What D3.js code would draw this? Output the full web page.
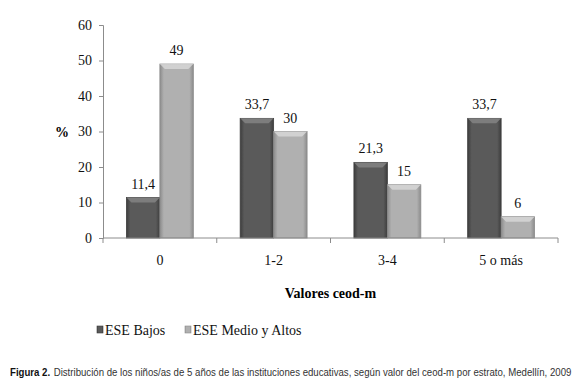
<!DOCTYPE html>
<html>
<head>
<meta charset="utf-8">
<script src="https://cdn.jsdelivr.net/npm/d3@7"></script>
<style>
  body { margin: 0; background: #fff; }
  svg { display: block; }
</style>
</head>
<body>
<svg id="chart" width="580" height="384"></svg>
<script>
// data
const categories = ["0", "1-2", "3-4", "5 o más"];
const seriesNames = ["ESE Bajos", "ESE Medio y Altos"];
const bajos = [11.4, 33.7, 21.3, 33.7];
const medioAltos = [49, 30, 15, 6];
const yTicks = [0, 10, 20, 30, 40, 50, 60];

const SERIF = '"Liberation Serif"';
const SANS = '"Liberation Sans"';
const fmt = v => String(v).replace(".", ",");

let svg = d3.select("#chart");
let margin = {top: 25, left: 103, right: 22, bottom: 146};
let width = 580 - margin.left - margin.right,
    height = 384 - margin.top - margin.bottom;

let rows = categories.map((c, i) => ({cat: c, values: [bajos[i], medioAltos[i]]}));

let x0 = d3.scaleBand().domain(categories).range([0, width]).padding(0);
let x1 = d3.scaleBand().domain([0, 1]).range([0, x0.bandwidth()]).paddingInner(0).paddingOuter(0.7);
let y = d3.scaleLinear().domain([0, 60]).range([height, 0]);

// gradients for the bevelled bars
let defs = svg.append("defs");
let shades = [
  {id: "g0", edge: "#3d3d3d", mid: "#5a5a5a", top: "#8a8a8a"},
  {id: "g1", edge: "#8c8c8c", mid: "#b0b0b0", top: "#dcdcdc"}
];
shades.forEach(s => {
  let gr = defs.append("linearGradient").attr("id", s.id).attr("x1", 0).attr("x2", 1).attr("y1", 0).attr("y2", 0);
  gr.append("stop").attr("offset", "0%").attr("stop-color", s.edge);
  gr.append("stop").attr("offset", "12%").attr("stop-color", s.mid);
  gr.append("stop").attr("offset", "88%").attr("stop-color", s.mid);
  gr.append("stop").attr("offset", "100%").attr("stop-color", s.edge);
});

let g = svg.append("g").attr("transform", `translate(${margin.left},${margin.top})`);

// y axis
let yAxis = g.append("g")
  .call(d3.axisLeft(y).tickValues(yTicks).tickSize(4).tickPadding(7));
yAxis.attr("font-family", null).attr("font-size", null);
yAxis.selectAll("path, line").attr("stroke", "#8c8c8c");
yAxis.selectAll("text")
  .style("font-family", SERIF).style("font-size", "14px").attr("fill", "#111");

// bars
let group = g.selectAll(".grp").data(rows).join("g")
  .attr("class", "grp")
  .attr("transform", d => `translate(${x0(d.cat)},0)`);

let bars = group.selectAll(".bar").data(d => d.values.map((v, k) => ({k, v}))).join("g").attr("class", "bar");

bars.append("rect")
  .attr("x", d => x1(d.k))
  .attr("y", d => y(d.v))
  .attr("width", x1.bandwidth())
  .attr("height", d => y(0) - y(d.v))
  .attr("fill", d => `url(#${shades[d.k].id})`)
  .attr("stroke", d => shades[d.k].edge)
  .attr("stroke-width", 0.8);

// top bevel
bars.append("path")
  .attr("d", d => {
    let xl = x1(d.k), xr = xl + x1.bandwidth(), t = y(d.v), b = 5;
    return `M${xl},${t}L${xr},${t}L${xr - b},${t + b}L${xl + b},${t + b}Z`;
  })
  .attr("fill", d => shades[d.k].top)
  .attr("opacity", 0.75);

bars.append("text")
  .attr("x", d => x1(d.k) + x1.bandwidth() / 2)
  .attr("y", d => y(d.v) - 9)
  .attr("text-anchor", "middle")
  .style("font-family", SERIF).style("font-size", "14px")
  .attr("fill", "#111")
  .text(d => fmt(d.v));

// x axis with ticks at category boundaries
let xAxisG = g.append("g").attr("transform", `translate(0,${height})`);
xAxisG.append("line").attr("x1", 0).attr("x2", width).attr("stroke", "#8c8c8c");
xAxisG.selectAll(".tk").data(categories.concat([null])).join("line")
  .attr("class", "tk")
  .attr("x1", (d, i) => i * x0.step()).attr("x2", (d, i) => i * x0.step())
  .attr("y1", 0).attr("y2", 5)
  .attr("stroke", "#8c8c8c");
xAxisG.selectAll(".lbl").data(categories).join("text")
  .attr("class", "lbl")
  .attr("x", d => x0(d) + x0.bandwidth() / 2)
  .attr("y", 27)
  .attr("text-anchor", "middle")
  .style("font-family", SERIF).style("font-size", "14px")
  .attr("fill", "#111")
  .text(d => d);

// axis titles
svg.append("text")
  .attr("x", 62).attr("y", 137)
  .attr("text-anchor", "middle")
  .style("font-family", SERIF).style("font-size", "14px").style("font-weight", "bold")
  .text("%");

svg.append("text")
  .attr("x", margin.left + width / 2).attr("y", 298)
  .attr("text-anchor", "middle")
  .style("font-family", SERIF).style("font-size", "14px").style("font-weight", "bold")
  .text("Valores ceod-m");

// legend
let legendX = [97, 185];
let leg = svg.selectAll(".leg").data(seriesNames).join("g")
  .attr("class", "leg")
  .attr("transform", (d, i) => `translate(${legendX[i]},335)`);
leg.append("rect")
  .attr("x", 0).attr("y", -9).attr("width", 6).attr("height", 7)
  .attr("fill", (d, i) => `url(#${shades[i].id})`)
  .attr("stroke", (d, i) => shades[i].edge).attr("stroke-width", 0.6);
leg.append("text")
  .attr("x", 8).attr("y", 0)
  .style("font-family", SERIF).style("font-size", "14px")
  .attr("fill", "#111")
  .text(d => d);

// caption, horizontally condensed like the narrow font in the original
let capG = svg.append("g").attr("transform", "translate(10,376) scale(0.78,1)");
let capBold = capG.append("text")
  .attr("x", 0).attr("y", 0)
  .style("font-family", SANS).style("font-size", "11px").style("font-weight", "bold")
  .attr("fill", "#111")
  .text("Figura 2.");
let bw = capBold.node().getComputedTextLength();
let capRest = capG.append("text")
  .attr("x", bw + 4).attr("y", 0)
  .style("font-family", SANS).style("font-size", "11px")
  .attr("fill", "#333")
  .text("Distribución de los niños/as de 5 años de las instituciones educativas, según valor del ceod-m por estrato, Medellín, 2009");
// fit the whole caption into the width used by the reference
let total = bw + 4 + capRest.node().getComputedTextLength();
capG.attr("transform", `translate(10,376) scale(${(562 / total).toFixed(4)},1)`);
</script>
</body>
</html>
